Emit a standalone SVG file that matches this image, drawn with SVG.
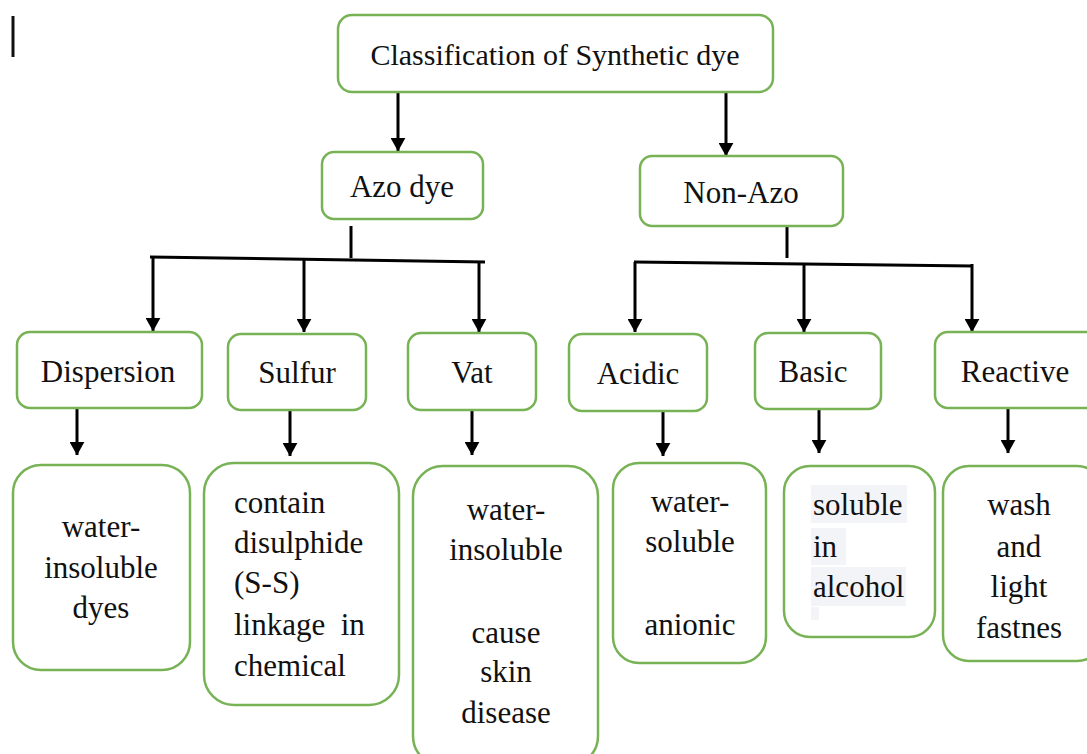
<svg xmlns="http://www.w3.org/2000/svg" width="1087" height="754" viewBox="0 0 1087 754">
<defs>
<marker id="ah" markerWidth="5" markerHeight="5" refX="4.4" refY="2.5" orient="auto" markerUnits="strokeWidth">
<path d="M0,0 L4.5,2.5 L0,5 z" fill="#000"/>
</marker>
<style>
.box{fill:#fff;stroke:#77b255;stroke-width:2.5}
.t{fill:#111;font-size:31px}
.c{text-anchor:middle}
.l{stroke:#000;stroke-width:3;fill:none}
.a{stroke:#000;stroke-width:3;fill:none;marker-end:url(#ah)}
.hl{fill:#f3f4f7}
</style>
</defs>
<rect width="1087" height="754" fill="#fff"/>
<line x1="13" y1="16" x2="13" y2="57" stroke="#111" stroke-width="3"/>

<g id="connectors">
<line class="a" x1="398" y1="80" x2="398" y2="151"/>
<line class="a" x1="726" y1="90" x2="726" y2="156"/>
<line class="l" x1="351" y1="226" x2="351" y2="258"/>
<path class="l" d="M150,257 L485,262"/>
<line class="a" x1="153" y1="258" x2="153" y2="331"/>
<line class="a" x1="304" y1="259" x2="304" y2="332"/>
<line class="a" x1="479" y1="261" x2="479" y2="332"/>
<line class="l" x1="787" y1="226" x2="787" y2="258"/>
<path class="l" d="M634,262 L973,266"/>
<line class="a" x1="635" y1="262" x2="635" y2="332"/>
<line class="a" x1="804" y1="264" x2="804" y2="332"/>
<line class="a" x1="972" y1="264" x2="972" y2="332"/>
<line class="a" x1="77" y1="408" x2="77" y2="455"/>
<line class="a" x1="290" y1="410" x2="290" y2="456"/>
<line class="a" x1="472" y1="410" x2="472" y2="455"/>
<line class="a" x1="663" y1="411" x2="663" y2="456"/>
<line class="a" x1="819" y1="409" x2="819" y2="453"/>
<line class="a" x1="1008" y1="408" x2="1008" y2="453"/>
</g>

<g style="font-family:'Liberation Serif',serif">
<g id="root"><rect class="box" x="338" y="15" width="435" height="77" rx="14"/>
<text class="t c" x="555" y="65" style="font-size:30px">Classification of Synthetic dye</text></g>

<g id="azo"><rect class="box" x="322" y="152" width="161" height="67" rx="12"/>
<text class="t c" x="402" y="197">Azo dye</text></g>

<g id="nonazo"><rect class="box" x="640" y="156" width="203" height="70" rx="12"/>
<text class="t c" x="741" y="203">Non-Azo</text></g>

<g id="dispersion"><rect class="box" x="17" y="332" width="185" height="76" rx="13"/>
<text class="t c" x="108" y="382">Dispersion</text></g>

<g id="sulfur"><rect class="box" x="228" y="334" width="138" height="76" rx="13"/>
<text class="t c" x="297" y="383">Sulfur</text></g>

<g id="vat"><rect class="box" x="408" y="333" width="128" height="77" rx="13"/>
<text class="t c" x="472" y="383">Vat</text></g>

<g id="acidic"><rect class="box" x="569" y="334" width="138" height="77" rx="13"/>
<text class="t c" x="638" y="384">Acidic</text></g>

<g id="basic"><rect class="box" x="755" y="333" width="126" height="76" rx="13"/>
<text class="t c" x="813" y="382">Basic</text></g>

<g id="reactive"><rect class="box" x="935" y="332" width="165" height="76" rx="13"/>
<text class="t c" x="1015" y="382">Reactive</text></g>

<g id="d1"><rect class="box" x="13" y="465" width="177" height="205" rx="28"/>
<text class="t c" x="101" y="537">water-</text>
<text class="t c" x="101" y="578">insoluble</text>
<text class="t c" x="101" y="618">dyes</text></g>

<g id="d2"><rect class="box" x="204" y="463" width="195" height="242" rx="30"/>
<text class="t" x="234" y="513">contain</text>
<text class="t" x="234" y="553">disulphide</text>
<text class="t" x="234" y="593">(S-S)</text>
<text class="t" x="234" y="635" xml:space="preserve">linkage  in</text>
<text class="t" x="234" y="676">chemical</text></g>

<g id="d3"><rect class="box" x="413" y="466" width="185" height="300" rx="30"/>
<text class="t c" x="506" y="520">water-</text>
<text class="t c" x="506" y="560">insoluble</text>
<text class="t c" x="506" y="643">cause</text>
<text class="t c" x="506" y="682">skin</text>
<text class="t c" x="506" y="723">disease</text></g>

<g id="d4"><rect class="box" x="613" y="463" width="153" height="200" rx="26"/>
<text class="t c" x="690" y="512">water-</text>
<text class="t c" x="690" y="552">soluble</text>
<text class="t c" x="690" y="635">anionic</text></g>

<g id="d5"><rect class="box" x="784" y="466" width="151" height="171" rx="26"/>
<rect class="hl" x="811" y="485" width="96" height="38"/>
<rect class="hl" x="811" y="528" width="35" height="37"/>
<rect class="hl" x="811" y="567" width="95" height="39"/>
<rect class="hl" x="811" y="607" width="8" height="13"/>
<text class="t" x="813" y="515">soluble</text>
<text class="t" x="813" y="557">in</text>
<text class="t" x="813" y="597">alcohol</text></g>

<g id="d6"><rect class="box" x="943" y="466" width="160" height="195" rx="26"/>
<text class="t c" x="1019" y="515">wash</text>
<text class="t c" x="1019" y="557">and</text>
<text class="t c" x="1019" y="597">light</text>
<text class="t c" x="1019" y="638">fastnes</text></g>
</g>
</svg>
